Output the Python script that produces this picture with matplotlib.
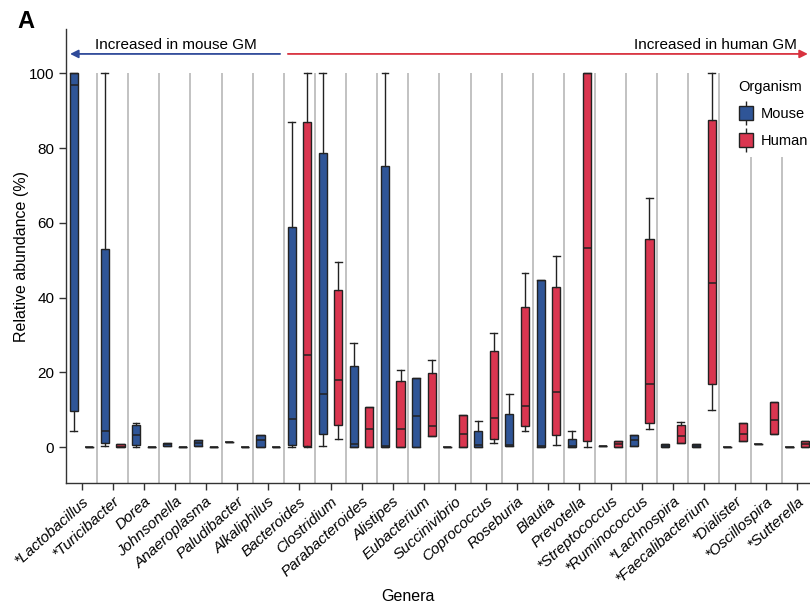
import numpy as np
import matplotlib.pyplot as plt
from matplotlib.lines import Line2D

plt.rcParams['font.family'] = ['Liberation Sans', 'DejaVu Sans']

#%% Data: box summaries (whisker low, Q1, median, Q3, whisker high) per genus
genera = ["*Lactobacillus", "*Turicibacter", "Dorea", "Johnsonella", "Anaeroplasma",
          "Paludibacter", "Alkaliphilus", "Bacteroides", "Clostridium", "Parabacteroides",
          "Alistipes", "Eubacterium", "Succinivibrio", "Coprococcus", "Roseburia",
          "Blautia", "Prevotella", "*Streptococcus", "*Ruminococcus", "*Lachnospira",
          "*Faecalibacterium", "*Dialister", "*Oscillospira", "*Sutterella"]

mouse_lo  = [4.3, 0.2, 0.0, 0.3, 0.2, 1.3, 0.0, 0.0, 0.3, 0.0, 0.0, 0.0,
             0.0, 0.0, 0.2, 0.0, 0.0, 0.2, 0.3, 0.0, 0.0, 0.0, 0.9, 0.0]
mouse_q1  = [9.6, 1.2, 0.5, 0.3, 0.2, 1.3, 0.0, 0.6, 3.6, 0.0, 0.0, 0.0,
             0.0, 0.0, 0.2, 0.0, 0.0, 0.2, 0.3, 0.0, 0.0, 0.0, 0.9, 0.0]
mouse_med = [96.8, 4.3, 3.3, 0.8, 1.0, 1.3, 1.8, 7.6, 14.3, 0.9, 0.2, 8.2,
             0.0, 0.6, 0.6, 0.2, 0.2, 0.2, 1.9, 0.3, 0.3, 0.0, 0.9, 0.0]
mouse_q3  = [100, 53.0, 6.0, 1.2, 2.0, 1.3, 3.3, 59.0, 78.7, 21.7, 75.3, 18.6,
             0.0, 4.3, 8.9, 44.7, 2.2, 0.2, 3.2, 0.9, 0.9, 0.0, 0.9, 0.0]
mouse_hi  = [100, 100, 6.3, 1.2, 2.0, 1.3, 3.3, 87.1, 100, 27.9, 100, 18.6,
             0.0, 7.0, 14.3, 44.7, 4.3, 0.2, 3.2, 0.9, 0.9, 0.0, 0.9, 0.0]

human_lo  = [0.0, 0.0, 0.0, 0.0, 0.0, 0.0, 0.0, 0.0, 2.2, 0.0, 0.0, 2.9,
             0.0, 1.2, 4.3, 0.6, 0.0, 0.0, 4.7, 1.2, 10.0, 1.5, 3.6, 0.0]
human_q1  = [0.0, 0.0, 0.0, 0.0, 0.0, 0.0, 0.0, 0.3, 6.0, 0.0, 0.0, 2.9,
             0.0, 2.2, 5.6, 3.3, 1.6, 0.0, 6.3, 1.2, 17.0, 1.5, 3.6, 0.0]
human_med = [0.0, 0.0, 0.0, 0.0, 0.0, 0.0, 0.0, 24.6, 17.9, 4.9, 4.7, 5.6,
             3.6, 7.9, 10.9, 14.7, 53.2, 0.7, 17.0, 2.9, 44.0, 3.6, 7.3, 0.7]
human_q3  = [0.0, 0.8, 0.0, 0.0, 0.0, 0.0, 0.0, 87.1, 42.0, 10.7, 17.6, 19.7,
             8.5, 25.7, 37.6, 42.9, 100, 1.6, 55.6, 6.0, 87.4, 6.5, 12.1, 1.5]
human_hi  = [0.0, 0.8, 0.0, 0.0, 0.0, 0.0, 0.0, 100, 49.6, 10.7, 20.6, 23.3,
             8.5, 30.6, 46.7, 51.0, 100, 1.6, 66.7, 6.7, 100, 6.5, 12.1, 1.5]

mouse_col = '#2F5597'
human_col = '#DA3650'

def box_stats(lo, q1, med, q3, hi):
    return [dict(whislo=a, q1=b, med=c, q3=d, whishi=e)
            for a, b, c, d, e in zip(lo, q1, med, q3, hi)]

#%% Plot
fig = plt.figure(figsize=(8.1, 6.06), dpi=100)
ax = fig.add_axes([0.0815, 0.2025, 0.922, 0.7492])

n = len(genera)
x = np.arange(n)
ymin, ymax = -9.7, 111.8

# grey separators between genera
ax.vlines(x[:-1] + 0.5, ymin, 100, color='#bdbdbd', lw=1.3, zorder=0)

for stats, offset, col in [(box_stats(mouse_lo, mouse_q1, mouse_med, mouse_q3, mouse_hi), -0.25, mouse_col),
                           (box_stats(human_lo, human_q1, human_med, human_q3, human_hi), 0.25, human_col)]:
    ax.bxp(stats, positions=x + offset, widths=0.26, showfliers=False, patch_artist=True,
           capwidths=0.22, manage_ticks=False,
           boxprops=dict(facecolor=col, edgecolor='#222222', lw=1.0),
           medianprops=dict(color='#222222', lw=1.1),
           whiskerprops=dict(color='#222222', lw=1.0),
           capprops=dict(color='#222222', lw=1.0))

ax.set_xlim(-0.5, n - 0.5)
ax.set_ylim(ymin, ymax)
ax.set_yticks([0, 20, 40, 60, 80, 100])
ax.set_xticks(x)
ax.set_xticklabels(genera, rotation=42, ha='right', va='top', rotation_mode='anchor',
                   style='italic', fontsize=11)
ax.tick_params(axis='both', length=5, width=1, color='#333333', labelsize=11)
ax.tick_params(axis='x', pad=3)
for s in ['top', 'right']:
    ax.spines[s].set_visible(False)
for s in ['left', 'bottom']:
    ax.spines[s].set_color('#333333')
    ax.spines[s].set_linewidth(1.0)

ax.set_ylabel("Relative abundance (%)", fontsize=11.5, labelpad=0)
fig.text(0.504, 0.015, "Genera", ha='center', va='center', fontsize=11.5)

# direction arrows
ax.annotate("", xy=(-0.37, 105.2), xytext=(6.38, 105.2),
            arrowprops=dict(arrowstyle='-|>', color='#2F4A99', lw=1.3, mutation_scale=12,
                            shrinkA=0, shrinkB=0))
ax.annotate("", xy=(23.34, 105.2), xytext=(6.63, 105.2),
            arrowprops=dict(arrowstyle='-|>', color='#D8323F', lw=1.3, mutation_scale=12,
                            shrinkA=0, shrinkB=0), annotation_clip=False)
ax.text(0.43, 107.7, "Increased in mouse GM", ha='left', va='center', fontsize=11)
ax.text(22.99, 107.7, "Increased in human GM", ha='right', va='center', fontsize=11)

# legend with box glyphs
handles = []
for col in [mouse_col, human_col]:
    handles.append((Line2D([], [], marker='|', color='#222222', markersize=17, mew=1.0, ls='None'),
                    Line2D([], [], marker='s', markerfacecolor=col, markeredgecolor='#222222',
                           markersize=10, mew=1.0, ls='None')))
leg = ax.legend(handles, ["Mouse", "Human"], title="Organism", loc='upper left',
                bbox_to_anchor=(0.889, 0.907), frameon=True, fontsize=10.5, title_fontsize=10.5,
                handlelength=1.0, handletextpad=0.5, labelspacing=0.9, borderaxespad=0,
                borderpad=0.6)
leg.get_frame().set_facecolor('white')
leg.get_frame().set_edgecolor('none')
leg.get_frame().set_alpha(1)
leg._legend_box.align = 'left'

fig.text(0.022, 0.965, "A", fontsize=17, fontweight='bold', ha='left', va='center')

fig.savefig("out.png", dpi=100)
